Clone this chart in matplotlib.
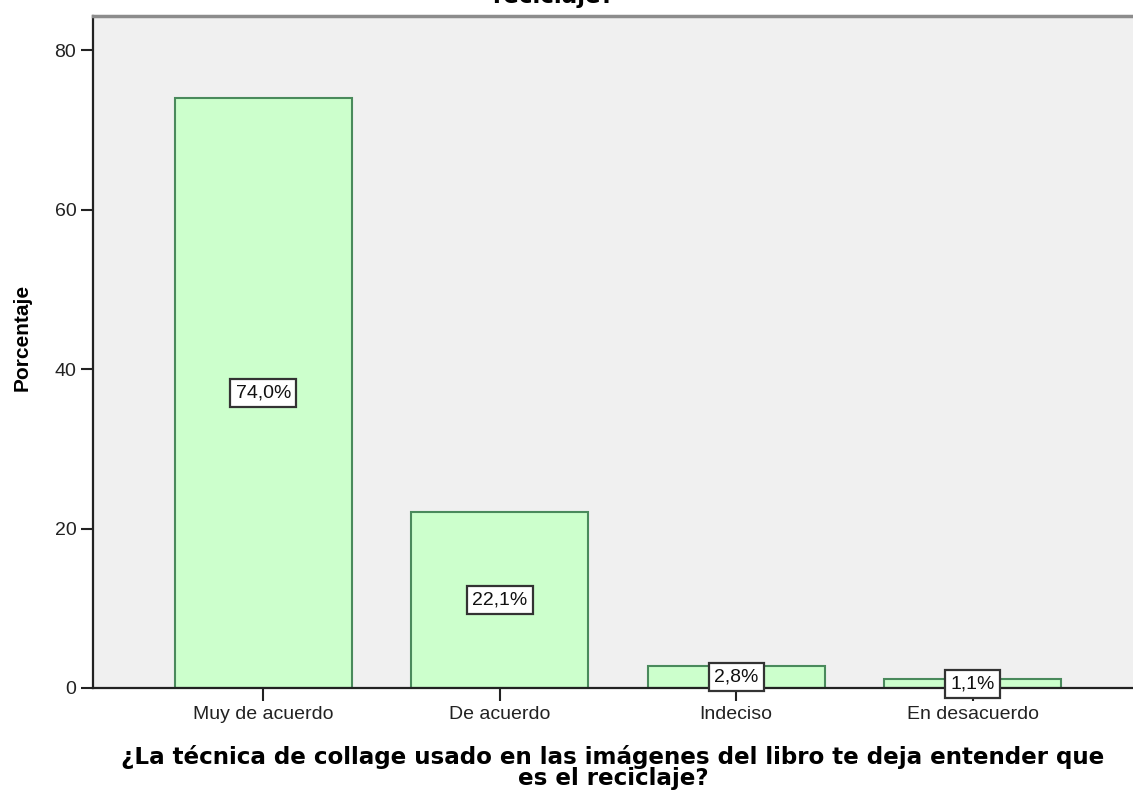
import matplotlib
matplotlib.use("Agg")
import matplotlib.pyplot as plt

categorias = ["Muy de acuerdo", "De acuerdo", "Indeciso", "En desacuerdo"]
porcentajes = [74.0, 22.1, 2.8, 1.1]
yticks = [0, 20, 40, 60, 80]
pregunta = "¿La técnica de collage usado en las imágenes del libro te deja entender que es el reciclaje?"

plt.rcParams['font.family'] = ['Liberation Sans', 'DejaVu Sans']

fig = plt.figure(figsize=(11.33, 7.92), dpi=100)
# el eje se sale por la derecha, como en la captura original
ax = fig.add_axes([93 / 1133, 104 / 792, 1050 / 1133, 672 / 792])
ax.set_facecolor('#F0F0F0')

x = list(range(len(categorias)))
ax.bar(x, porcentajes, width=0.75, color='#CCFFCC', edgecolor='#4A8A5C', linewidth=1.5, zorder=2)

for i, v in enumerate(porcentajes):
    etiqueta = f"{v:.1f}%".replace('.', ',')
    ax.text(i, v / 2, etiqueta, ha='center', va='center', fontsize=14, color='#111111', zorder=3,
            bbox=dict(boxstyle='square,pad=0.28', fc='white', ec='#333333', lw=1.6))

ax.set_xlim(-0.72, 3.72)
ax.set_ylim(0, 84.3)
ax.set_yticks(yticks)
ax.set_xticks(x)
ax.set_xticklabels(categorias)
ax.tick_params(axis='both', labelsize=14, length=9, width=1.5, pad=3, colors='#222222')
ax.tick_params(axis='x', pad=4)

ax.spines['top'].set_color('#8C8C8C')
ax.spines['top'].set_linewidth(2.5)
ax.spines['left'].set_color('#222222')
ax.spines['left'].set_linewidth(1.6)
ax.spines['bottom'].set_color('#222222')
ax.spines['bottom'].set_linewidth(1.6)
ax.spines['right'].set_visible(False)

ax.set_ylabel("Porcentaje", fontsize=15, fontweight='bold')
ax.yaxis.set_label_coords((32 - 93) / 1050, (688 - 337) / 672)

# eje x: la pregunta en dos lineas (letra ancha como en SPSS)
linea1 = "¿La técnica de collage usado en las imágenes del libro te deja entender que"
linea2 = "es el reciclaje?"
fig.text(613 / 1133, 1 - 764 / 792, linea1, ha='center', va='baseline', fontsize=16.6,
         fontweight='bold', family='DejaVu Sans')
fig.text(613 / 1133, 1 - 785 / 792, linea2, ha='center', va='baseline', fontsize=16.6,
         fontweight='bold', family='DejaVu Sans')

# titulo cortado arriba, solo se ve la ultima linea
fig.text(553 / 1133, 1 - 3 / 792, "¿La técnica de collage usado en las imágenes del libro te deja entender que es el\nreciclaje?",
         ha='center', va='baseline', fontsize=16.6, fontweight='bold', family='DejaVu Sans', linespacing=1.0)

fig.savefig("out.png", dpi=100)
